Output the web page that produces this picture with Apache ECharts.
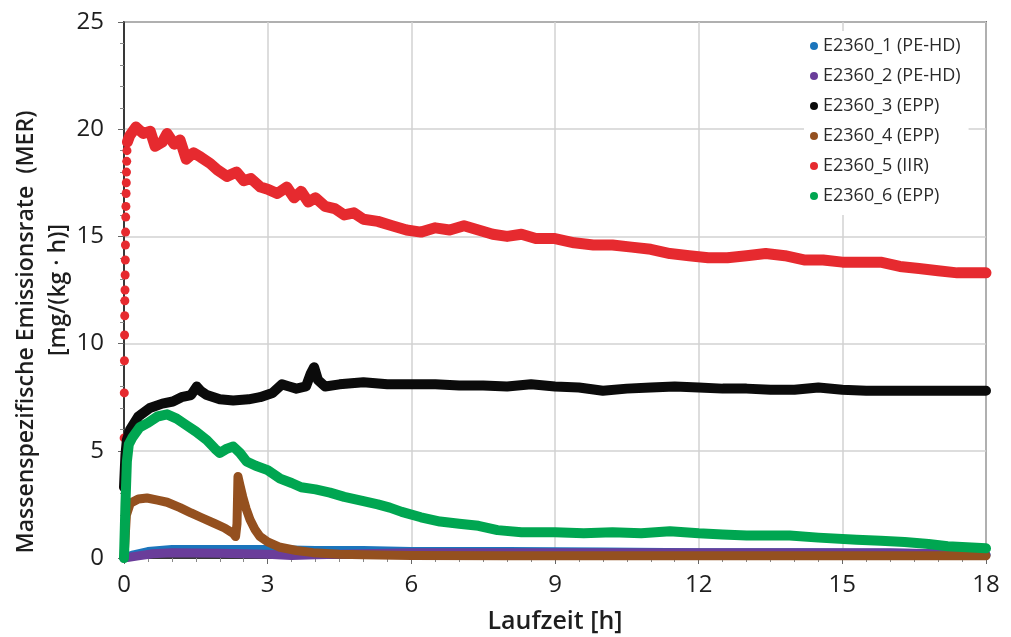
<!DOCTYPE html>
<html>
<head>
<meta charset="utf-8">
<script src="https://cdn.jsdelivr.net/npm/echarts@6/dist/echarts.min.js"></script>
<style>
  html, body { margin: 0; padding: 0; background: #fff; }
  #chart { width: 1011px; height: 637px; }
</style>
</head>
<body>
<div id="chart"></div>
<script>
// Laufzeit [h] / MER [mg/(kg·h)] pairs
var seriesNames = ['E2360_1 (PE-HD)', 'E2360_2 (PE-HD)', 'E2360_3 (EPP)', 'E2360_4 (EPP)', 'E2360_5 (IIR)', 'E2360_6 (EPP)'];
var seriesColors = ['#1b75bc', '#6a3d9a', '#0b0b0b', '#94501f', '#e62a2f', '#00a651'];
var xTicks = [0, 3, 6, 9, 12, 15, 18];
var yTicks = [0, 5, 10, 15, 20, 25];

var e1 = [[0,0],[0.2,0.15],[0.5,0.3],[1,0.4],[2,0.4],[3,0.4],[4,0.35],[5,0.35],[6,0.3],[8,0.3],[10,0.28],[12,0.25],[14,0.25],[16,0.22],[17,0.2],[17.6,0.15],[18,0.15]];
var e2 = [[0,0],[0.3,0.1],[0.6,0.2],[1,0.25],[2,0.22],[3,0.18],[3.5,0.12],[4,0.15],[5,0.2],[6,0.25],[8,0.25],[10,0.25],[12,0.25],[14,0.25],[16,0.25],[17,0.2],[18,0.15]];
var e3 = [[0,3.3],[0.03,4.8],[0.06,5.5],[0.13,6.0],[0.3,6.6],[0.54,7.0],[0.8,7.2],[1.02,7.3],[1.2,7.5],[1.4,7.6],[1.52,8.0],[1.6,7.8],[1.73,7.6],[2.0,7.4],[2.28,7.35],[2.6,7.4],[2.84,7.5],[3.1,7.7],[3.3,8.1],[3.45,8.0],[3.6,7.9],[3.8,8.0],[3.9,8.6],[3.97,8.9],[4.05,8.3],[4.2,8.0],[4.5,8.1],[5,8.2],[5.5,8.1],[6,8.1],[6.5,8.1],[7,8.05],[7.5,8.05],[8,8.0],[8.5,8.1],[9,8.0],[9.5,7.95],[10,7.8],[10.5,7.9],[11,7.95],[11.5,8.0],[12,7.95],[12.5,7.9],[13,7.9],[13.5,7.85],[14,7.85],[14.5,7.95],[15,7.85],[15.5,7.8],[16,7.8],[16.5,7.8],[17,7.8],[17.5,7.8],[18,7.8]];
var e4 = [[0,0],[0.05,2.0],[0.13,2.55],[0.3,2.75],[0.48,2.8],[0.7,2.7],[0.9,2.6],[1.17,2.35],[1.4,2.1],[1.6,1.9],[1.9,1.6],[2.1,1.4],[2.28,1.15],[2.33,1.0],[2.36,1.6],[2.38,3.8],[2.42,3.4],[2.48,2.85],[2.55,2.3],[2.63,1.8],[2.73,1.35],[2.84,1.0],[3.0,0.75],[3.26,0.5],[3.6,0.35],[3.95,0.25],[4.5,0.18],[5,0.15],[6,0.12],[8,0.1],[10,0.1],[12,0.1],[14,0.1],[16,0.1],[18,0.1]];
// the steep start of E2360_5 shows as separate dots
var e5Start = [[0,3.3],[0.003,5.6],[0.006,7.7],[0.009,9.2],[0.012,10.4],[0.015,11.3],[0.018,12.0],[0.021,12.5],[0.024,13.2],[0.027,13.9],[0.03,14.6],[0.033,15.2],[0.036,15.9],[0.04,16.4],[0.044,17.0],[0.048,17.5],[0.052,18.0],[0.057,18.5],[0.062,19.0],[0.07,19.4]];
var e5 = [[0.07,19.4],[0.12,19.7],[0.25,20.1],[0.4,19.8],[0.55,19.9],[0.65,19.2],[0.8,19.4],[0.9,19.8],[1.05,19.3],[1.17,19.5],[1.3,18.6],[1.45,18.9],[1.6,18.7],[1.8,18.4],[1.95,18.1],[2.15,17.8],[2.35,18.0],[2.5,17.6],[2.65,17.7],[2.85,17.3],[3.0,17.2],[3.2,17.0],[3.4,17.3],[3.55,16.8],[3.7,17.1],[3.85,16.6],[4.0,16.8],[4.2,16.4],[4.4,16.3],[4.6,16.0],[4.8,16.1],[5.0,15.8],[5.3,15.7],[5.6,15.5],[5.9,15.3],[6.2,15.2],[6.5,15.4],[6.8,15.3],[7.1,15.5],[7.4,15.3],[7.7,15.1],[8.0,15.0],[8.3,15.1],[8.6,14.9],[9.0,14.9],[9.4,14.7],[9.8,14.6],[10.2,14.6],[10.6,14.5],[11.0,14.4],[11.4,14.2],[11.8,14.1],[12.2,14.0],[12.6,14.0],[13.0,14.1],[13.4,14.2],[13.8,14.1],[14.2,13.9],[14.6,13.9],[15.0,13.8],[15.4,13.8],[15.8,13.8],[16.2,13.6],[16.6,13.5],[17.0,13.4],[17.4,13.3],[17.8,13.3],[18.0,13.3]];
var e6 = [[0,0],[0.03,2.5],[0.06,4.5],[0.1,5.3],[0.17,5.6],[0.33,6.1],[0.5,6.3],[0.7,6.6],[0.9,6.7],[1.1,6.5],[1.3,6.2],[1.5,5.9],[1.73,5.5],[1.9,5.1],[2.0,4.9],[2.15,5.1],[2.28,5.2],[2.42,4.9],[2.56,4.5],[2.75,4.3],[3.0,4.1],[3.26,3.7],[3.5,3.5],[3.7,3.3],[4.0,3.2],[4.3,3.05],[4.6,2.85],[5.0,2.65],[5.3,2.5],[5.55,2.35],[5.8,2.15],[6.2,1.9],[6.6,1.7],[7.0,1.6],[7.4,1.5],[7.8,1.3],[8.3,1.2],[9.0,1.2],[9.6,1.15],[10.2,1.2],[10.8,1.15],[11.4,1.25],[12.0,1.15],[12.5,1.1],[13.0,1.05],[13.5,1.05],[13.9,1.05],[14.5,0.95],[15.3,0.85],[15.8,0.8],[16.3,0.75],[16.8,0.65],[17.2,0.55],[17.6,0.5],[18.0,0.45]];

var myChart = echarts.init(document.getElementById('chart'));
var font = '"Open Sans", "Noto Sans", sans-serif';

function bandSeries(idx, data, w) {
    return {
        name: seriesNames[idx],
        type: 'line',
        data: data,
        showSymbol: false,
        silent: true,
        itemStyle: { color: seriesColors[idx] },
        lineStyle: { color: seriesColors[idx], width: w, cap: 'round', join: 'round' }
    };
}

var option = {
    animation: false,
    textStyle: { fontFamily: font },
    grid: {
        left: 124, right: 25, top: 22, bottom: 79,
        outerBoundsMode: 'none',
        containLabel: false,
        show: true, borderColor: '#111', borderWidth: 1.5
    },
    legend: {
        orient: 'vertical',
        left: 804, top: 31,
        icon: 'circle',
        itemWidth: 8, itemHeight: 8,
        itemGap: 12,
        padding: [6, 8, 10, 6],
        backgroundColor: '#fff',
        data: seriesNames,
        textStyle: { fontFamily: font, fontSize: 18, color: '#2a2a2a' }
    },
    xAxis: {
        type: 'value',
        min: 0, max: 18, interval: 3,
        name: 'Laufzeit [h]',
        nameLocation: 'middle',
        nameGap: 51,
        nameMoveOverlap: false,
        nameTextStyle: { fontSize: 25, color: '#1e1e1e', fontWeight: 600 },
        axisLine: { lineStyle: { color: '#111', width: 1.5 } },
        axisTick: { length: 6, lineStyle: { color: '#666' } },
        minorTick: { show: true, splitNumber: 6, length: 4, lineStyle: { color: '#888' } },
        axisLabel: {
            fontSize: 24, color: '#1e1e1e', margin: 15,
            formatter: function (v) { return xTicks.indexOf(v) >= 0 ? v : ''; }
        },
        splitLine: { show: true, lineStyle: { color: '#d2d2d2', width: 1.5 } }
    },
    yAxis: {
        type: 'value',
        min: 0, max: 25, interval: 5,
        name: '{a|Massenspezifische Emissionsrate  (MER)}\n{b|[mg/(kg · h)]}',
        nameLocation: 'middle',
        nameGap: 50,
        nameMoveOverlap: false,
        nameRotate: 90,
        nameTextStyle: {
            fontSize: 23, color: '#1e1e1e', lineHeight: 32, fontWeight: 600,
            rich: {
                a: { fontSize: 23, fontWeight: 600, color: '#1e1e1e', lineHeight: 32, padding: [0, 84, 0, 0] },
                b: { fontSize: 23, fontWeight: 600, color: '#1e1e1e', lineHeight: 32 }
            }
        },
        axisLine: { show: true, lineStyle: { color: '#111', width: 1.5 } },
        axisTick: { show: true, length: 6, lineStyle: { color: '#666' } },
        minorTick: { show: true, splitNumber: 5, length: 4, lineStyle: { color: '#888' } },
        axisLabel: {
            fontSize: 24, color: '#1e1e1e', margin: 20,
            formatter: function (v) { return yTicks.indexOf(v) >= 0 ? v : ''; }
        },
        splitLine: { show: true, lineStyle: { color: '#d2d2d2', width: 1.5 } }
    },
    series: [
        bandSeries(0, e1, 9),
        bandSeries(1, e2, 9),
        bandSeries(2, e3, 10),
        bandSeries(3, e4, 9),
        {
            name: seriesNames[4],
            type: 'scatter',
            data: e5Start,
            symbolSize: 9,
            silent: true,
            itemStyle: { color: seriesColors[4], opacity: 1 }
        },
        bandSeries(4, e5, 11),
        bandSeries(5, e6, 10)
    ]
};
myChart.setOption(option);
</script>
</body>
</html>
